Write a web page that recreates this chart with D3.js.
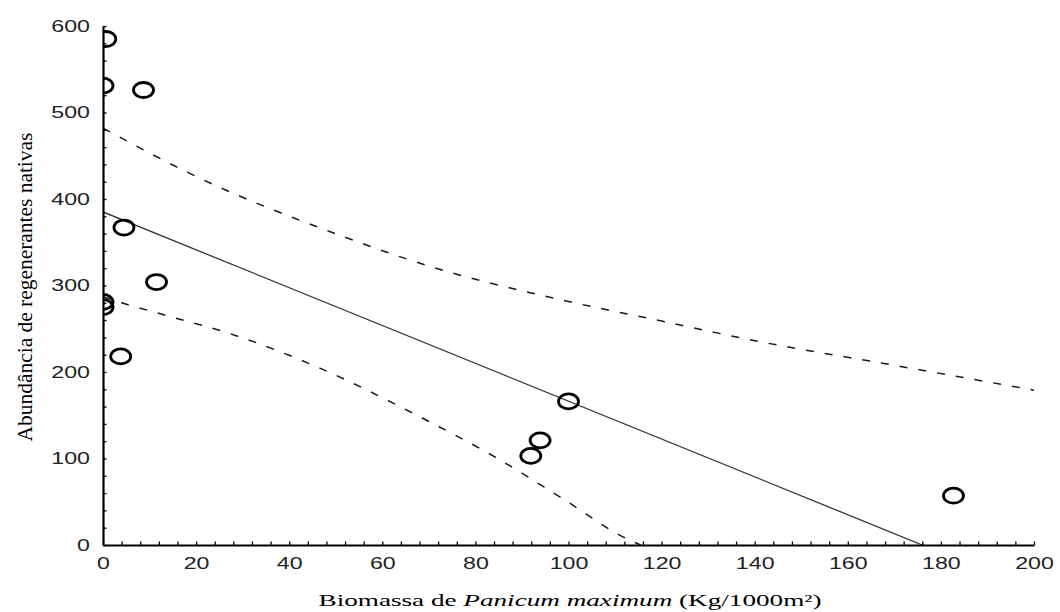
<!DOCTYPE html>
<html>
<head>
<meta charset="utf-8">
<script src="https://cdn.jsdelivr.net/npm/d3@7"></script>
<style>
  body { margin: 0; background: #fff; }
  svg { display: block; }
</style>
</head>
<body>
<div id="plot"></div>
<script>
// observed points (biomass, abundance)
const biomassa = [0.6, 0, 8.7, 4.5, 11.5, 0, 0, 3.8, 100, 93.9, 91.9, 182.7];
const abundancia = [585, 531, 526, 367, 304, 281, 275, 218, 166, 121, 103, 57];

// regression line
const fitX = [0, 176];
const fitY = [385, 0];

// confidence band
const upperX = [0, 20.8, 49.4, 70.9, 96.7, 119, 142.6, 169.7, 200];
const upperY = [482, 424, 361, 321, 285.5, 260, 233.5, 208, 179];
const lowerX = [0, 4, 12.5, 28.6, 45.5, 68.5, 83.8, 99.2, 112.6, 115.5];
const lowerY = [287, 280, 267, 242, 207, 147, 103, 52, 7, 0];

const xTicks = d3.range(0, 201, 4);
const yTicks = d3.range(0, 601, 20);

const svgWidth = 1060, svgHeight = 612;

const svg = d3.select('#plot')
    .append('svg')
    .attr("width", svgWidth)
    .attr("height", svgHeight);

const x = d3.scaleLinear().domain([0, 200]).range([103, 1034]);
const y = d3.scaleLinear().domain([0, 600]).range([545, 26]);

svg.append("clipPath").attr("id", "area")
    .append("rect")
    .attr("x", x(0)).attr("y", y(600))
    .attr("width", x(200) - x(0)).attr("height", y(0) - y(600));

const plot = svg.append("g").attr("clip-path", "url(#area)");

// bands
const line = d3.line()
    .x(d => x(d[0]))
    .y(d => y(d[1]))
    .curve(d3.curveMonotoneX);

plot.append("path")
    .datum(upperX.map((v, i) => [v, upperY[i]]))
    .attr("d", line)
    .attr("fill", "none")
    .attr("stroke", "#1a1a1a")
    .attr("stroke-width", 1.5)
    .attr("stroke-dasharray", "8,11");

plot.append("path")
    .datum(lowerX.map((v, i) => [v, lowerY[i]]))
    .attr("d", line)
    .attr("fill", "none")
    .attr("stroke", "#1a1a1a")
    .attr("stroke-width", 1.5)
    .attr("stroke-dasharray", "8,11");

// fitted line
plot.append("path")
    .datum(fitX.map((v, i) => [v, fitY[i]]))
    .attr("d", d3.line().x(d => x(d[0])).y(d => y(d[1])))
    .attr("fill", "none")
    .attr("stroke", "#333")
    .attr("stroke-width", 1.3);

// points
plot.selectAll("ellipse")
    .data(biomassa.map((v, i) => [v, abundancia[i]]))
    .enter()
    .append("ellipse")
    .attr("cx", d => x(d[0]))
    .attr("cy", d => y(d[1]))
    .attr("rx", 10)
    .attr("ry", 7.5)
    .attr("fill", "none")
    .attr("stroke", "#000")
    .attr("stroke-width", 2.8);

// axes
const labelStretch = 1.45;

const gx = svg.append("g")
    .attr("transform", "translate(0," + y(0) + ")")
    .call(d3.axisBottom(x)
        .tickValues(xTicks)
        .tickSize(-3.5)
        .tickSizeOuter(0)
        .tickPadding(13)
        .tickFormat(d => d % 20 === 0 ? d : ""));

const gy = svg.append("g")
    .attr("transform", "translate(" + x(0) + ",0)")
    .call(d3.axisLeft(y)
        .tickValues(yTicks)
        .tickSize(-3.5)
        .tickSizeOuter(0)
        .tickPadding(13)
        .tickFormat(d => d % 100 === 0 ? d : ""));

[gx, gy].forEach(g => {
    g.select(".domain").attr("stroke", "#000").attr("stroke-width", 2.2);
    g.selectAll(".tick line").attr("stroke", "#000").attr("stroke-width", 1.3);
    g.selectAll(".tick text")
        .attr("font-family", "'Liberation Sans', Arial, sans-serif")
        .attr("font-size", 16)
        .attr("fill", "#222")
        .attr("transform", "scale(" + labelStretch + ",1)");
});
gy.selectAll(".tick text").attr("x", -13 / labelStretch);

// axis titles
const xTitle = svg.append("text")
    .attr("text-anchor", "middle")
    .attr("font-family", "'Liberation Serif', 'Times New Roman', serif")
    .attr("font-size", 16.5)
    .attr("fill", "#000");
xTitle.append("tspan").text("Biomassa de ");
xTitle.append("tspan").attr("font-style", "italic").text("Panicum maximum");
xTitle.append("tspan").text(" (Kg/1000m²)");
const xs = 503 / xTitle.node().getComputedTextLength();
xTitle.attr("transform", "translate(570,606) scale(" + xs + ",1)");

const yTitle = svg.append("text")
    .attr("text-anchor", "middle")
    .attr("font-family", "'Liberation Serif', 'Times New Roman', serif")
    .attr("font-size", 20)
    .attr("fill", "#000")
    .text("Abundância de regenerantes nativas");
const ys = 309 / yTitle.node().getComputedTextLength();
yTitle.attr("transform", "translate(32,287) rotate(-90) scale(" + ys + ",1)");
</script>
</body>
</html>
